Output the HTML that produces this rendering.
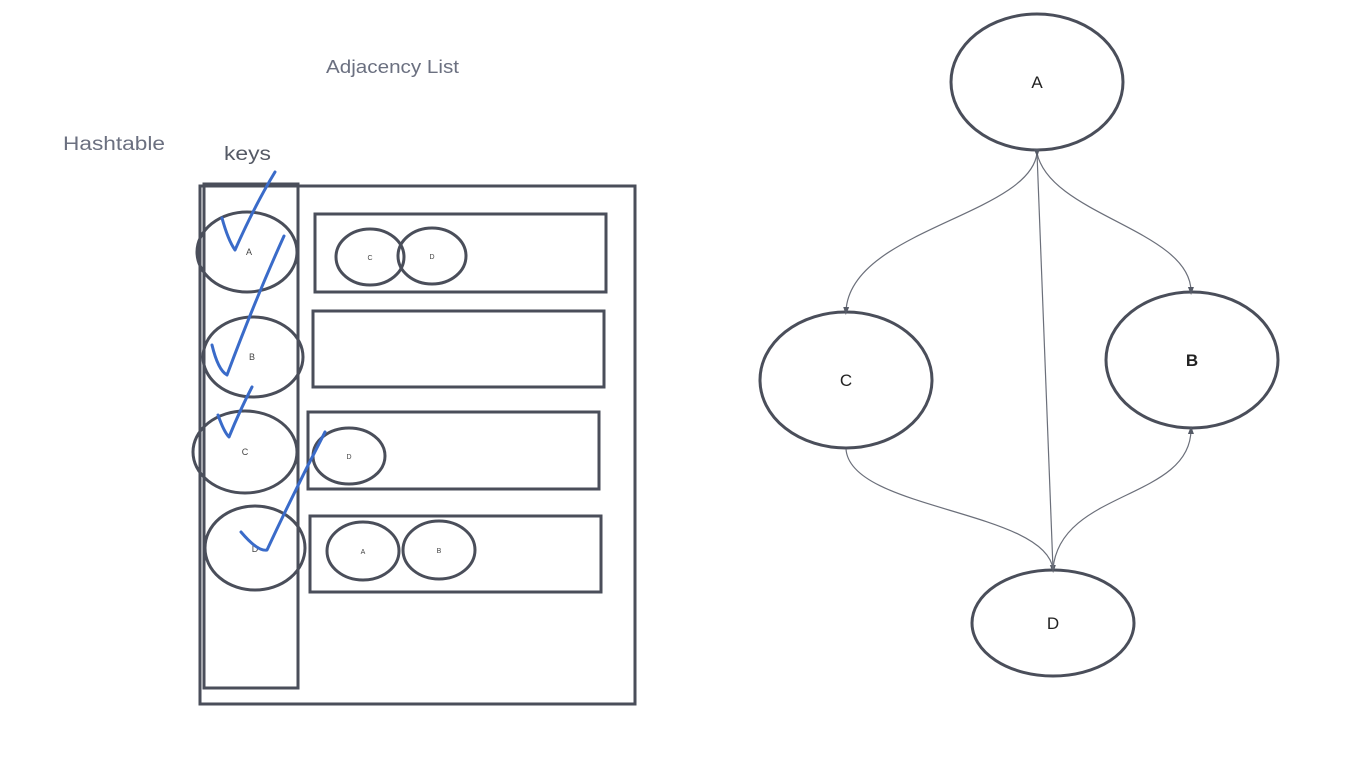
<!DOCTYPE html>
<html><head><style>
html,body{margin:0;padding:0;background:#fff;width:1368px;height:771px;overflow:hidden}
svg{display:block}
text{font-family:"Liberation Sans",sans-serif}
</style></head><body>
<svg width="1368" height="771" viewBox="0 0 1368 771">
<defs><marker id="ar" markerWidth="8" markerHeight="8" refX="4" refY="4" orient="auto" markerUnits="userSpaceOnUse"><path d="M0,1 L8,4 L0,7 Z" fill="#555a66"/></marker></defs>
<text x="326" y="73" font-size="18" fill="#6b7080" textLength="133" lengthAdjust="spacingAndGlyphs">Adjacency List</text>
<text x="63" y="150" font-size="19" fill="#6b7080" textLength="102" lengthAdjust="spacingAndGlyphs">Hashtable</text>
<text x="224" y="160" font-size="19" fill="#555a66" textLength="47" lengthAdjust="spacingAndGlyphs">keys</text>
<g fill="none" stroke="#4a4e5a" stroke-width="3">
<rect x="200" y="186" width="435" height="518"/>
<rect x="204" y="184" width="94" height="504"/>
<ellipse cx="247" cy="252" rx="50" ry="40"/>
<ellipse cx="253" cy="357" rx="50" ry="40"/>
<ellipse cx="245" cy="452" rx="52" ry="41"/>
<ellipse cx="255" cy="548" rx="50" ry="42"/>
<rect x="315" y="214" width="291" height="78"/>
<rect x="313" y="311" width="291" height="76"/>
<rect x="308" y="412" width="291" height="77"/>
<rect x="310" y="516" width="291" height="76"/>
<ellipse cx="370" cy="257" rx="34" ry="28"/>
<ellipse cx="432" cy="256" rx="34" ry="28"/>
<ellipse cx="349" cy="456" rx="36" ry="28"/>
<ellipse cx="363" cy="551" rx="36" ry="29"/>
<ellipse cx="439" cy="550" rx="36" ry="29"/>
</g>
<g font-size="9" fill="#444" text-anchor="middle">
<text x="249" y="255">A</text><text x="252" y="360">B</text><text x="245" y="455">C</text><text x="255" y="552">D</text>
<text x="370" y="260" font-size="7">C</text><text x="432" y="259" font-size="7">D</text><text x="349" y="459" font-size="7">D</text>
<text x="363" y="554" font-size="7">A</text><text x="439" y="553" font-size="7">B</text>
</g>
<g fill="none" stroke="#3a6bc9" stroke-width="3" stroke-linecap="round" stroke-linejoin="round">
<path d="M222,218 Q228,240 235,250 Q255,205 275,172"/>
<path d="M212,345 Q218,370 227,375 Q255,300 284,236"/>
<path d="M218,415 Q224,432 229,437 Q240,410 252,387"/>
<path d="M241,532 Q258,552 267,550 Q295,490 325,432"/>
</g>
<g fill="none" stroke="#4a4e5a" stroke-width="3">
<ellipse cx="1037" cy="82" rx="86" ry="68"/>
<ellipse cx="846" cy="380" rx="86" ry="68"/>
<ellipse cx="1192" cy="360" rx="86" ry="68"/>
<ellipse cx="1053" cy="623" rx="81" ry="53"/>
</g>
<g font-size="17" fill="#222" text-anchor="middle">
<text x="1037" y="88">A</text><text x="846" y="386">C</text><text x="1192" y="366" font-weight="bold">B</text><text x="1053" y="629">D</text>
</g>
<g fill="none" stroke="#6b6f7a" stroke-width="1.2">
<path d="M1037,153 C1030,215 850,230 846,311" marker-end="url(#ar)"/>
<path d="M1037,153 C1050,215 1190,230 1191,291" marker-end="url(#ar)"/>
<path d="M1037,153 L1053,569" marker-end="url(#ar)" marker-start="url(#ar)"/>
<path d="M846,449 C850,510 1045,510 1053,569"/>
<path d="M1053,569 C1060,490 1190,500 1191,430" marker-end="url(#ar)"/>
</g>
</svg>
</body></html>
